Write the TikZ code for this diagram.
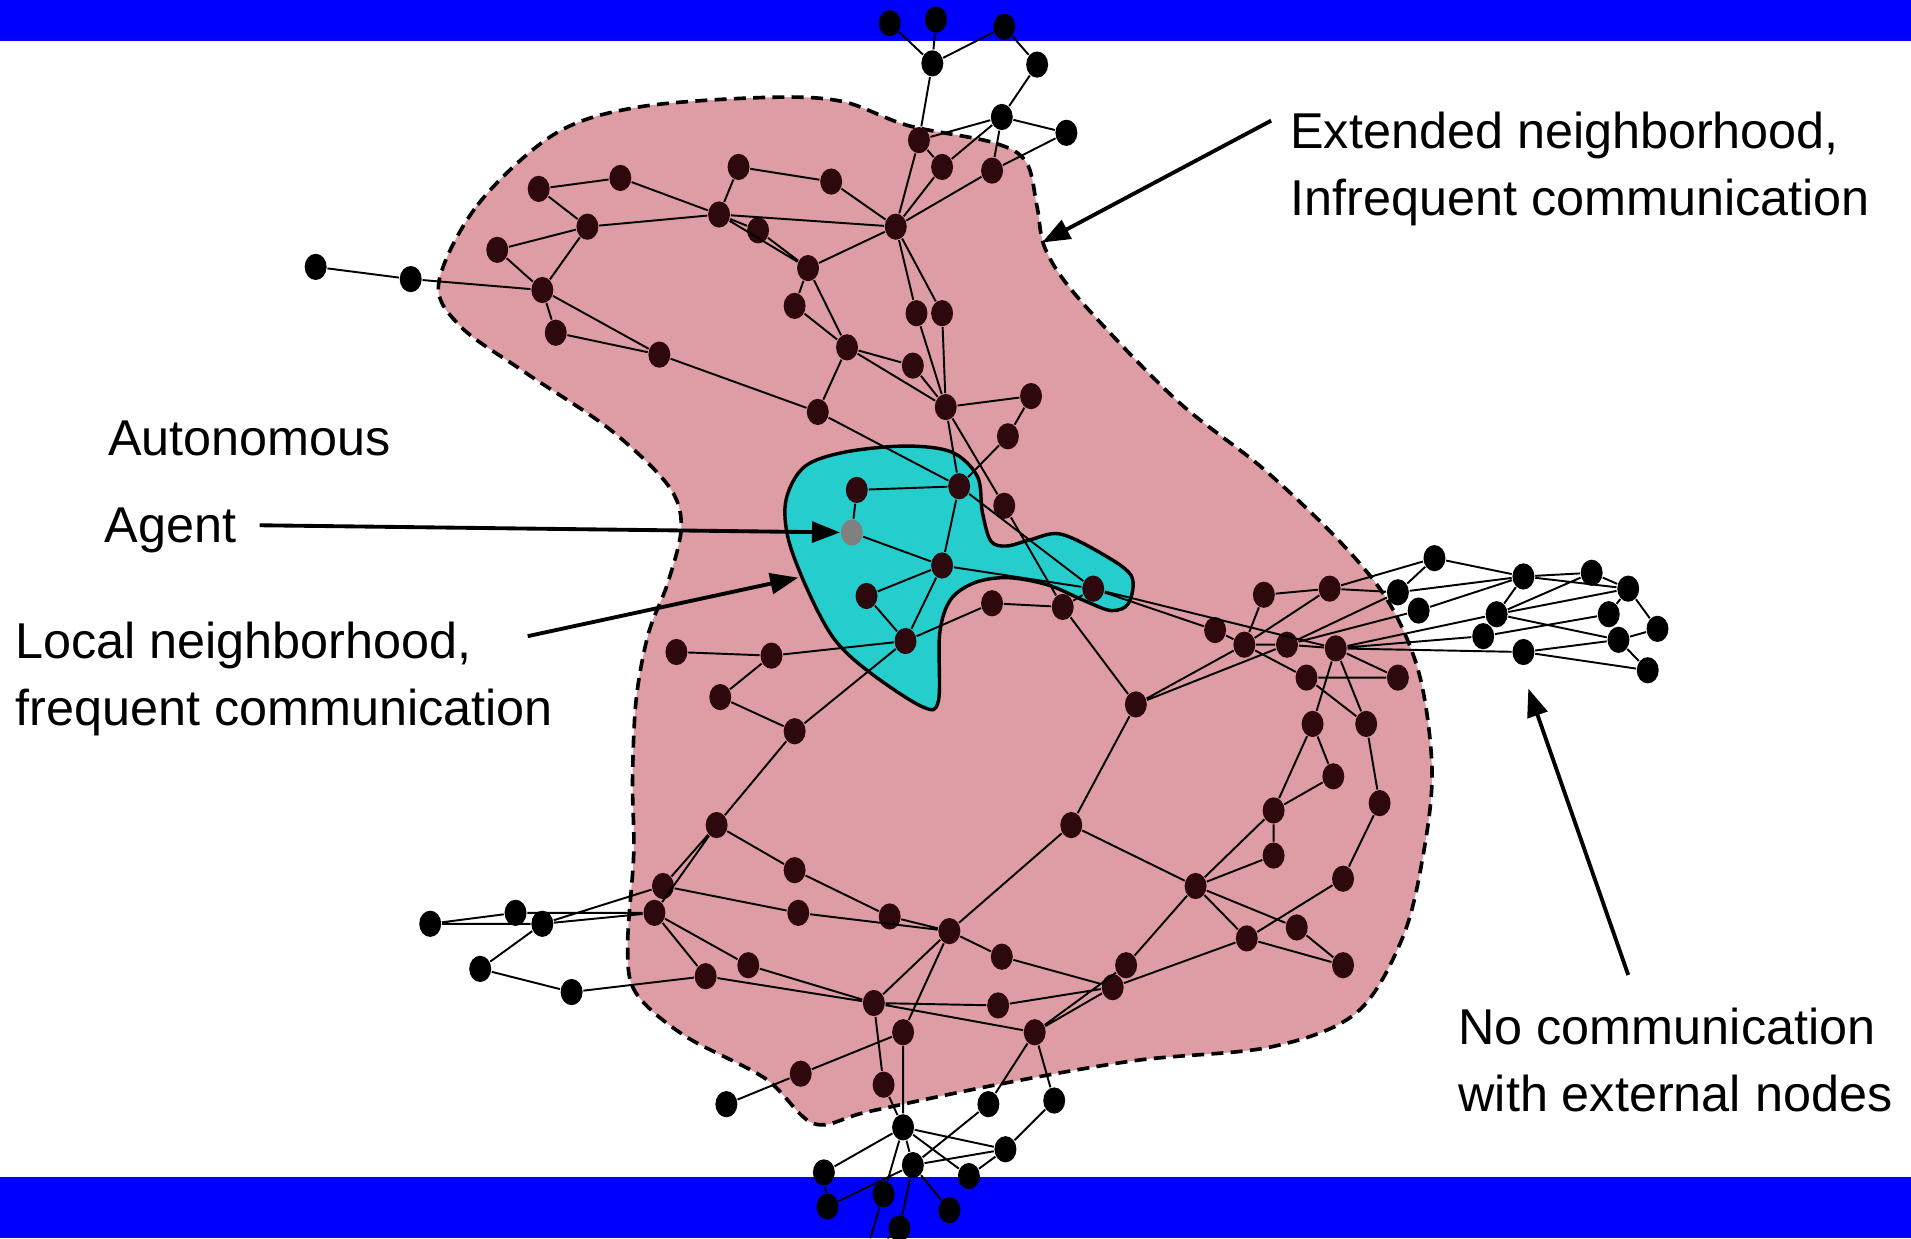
\documentclass[tikz,border=0pt]{standalone}
\usepackage{xcolor}
\usepackage{fontspec}
\setmainfont{Liberation Sans}
\usepackage{tikz}
\usetikzlibrary{shapes.geometric, arrows.meta}

\definecolor{barblue}{RGB}{0,0,255}
\definecolor{extpink}{RGB}{222,156,164}
\definecolor{loccyan}{RGB}{38,205,205}
\definecolor{nodedark}{RGB}{45,8,12}

\begin{document}
\begin{tikzpicture}
				[x= 0.01cm, y= -0.01cm,
				vin/.style = {ellipse, fill=nodedark, inner sep=0pt, minimum width=0.18cm, minimum height=0.215cm},
				vout/.style = {vin, fill=black},
				vagent/.style = {vin, fill=gray},
				lbl/.style = {anchor=base west, inner sep=0pt, font=\fontsize{11.75}{15.6}\selectfont},
				arr/.style = {line width=0.9pt, -{Triangle[length=0.23cm, width=0.17cm]}}]
				\useasboundingbox (0,0) rectangle (1568,1016);
				\fill[barblue] (0,0) rectangle (1568,34);
				\fill[barblue] (0,966) rectangle (1568,1016);
				% extended neighborhood
				\draw[fill=extpink, line width=0.85pt, dash pattern=on 2.8pt off 1.7pt] plot[smooth cycle, tension=0.55] coordinates {
					(360,232) (392,168) (455,110) (523,88) (627,80) (690,83) (745,103) (815,117) (842,133) (851,170)
					(858,205) (886,246) (965,328) (1037,385) (1100,445) (1140,495) (1165,555) (1175,632) (1168,700) (1151,769)
					(1113,831) (1043,859) (933,870) (823,889) (713,912) (668,922) (628,885) (562,850) (522,815) (515,777)
					(520,700) (519,640) (522,574) (532,520) (548,478) (559,432) (548,398) (500,352) (430,305) (378,268)};
				% local neighborhood
				\draw[fill=loccyan, line width=0.8pt] plot[smooth cycle, tension=0.55] coordinates {
					(645,410) (660,383) (693,371) (743,366) (781,371) (802,391) (806,420) (813,444) (826,448) (845,443)
					(869,438) (900,452) (928,472) (926,495) (912,501) (890,493) (860,480) (827,474) (800,478) (780,492)
					(771,520) (770,575) (757,580) (714,552) (685,525) (664,487) (647,443)};
				% outside nodes
				\node[vout] (t1) at (730,19) {};
				\node[vout] (t2) at (768,16) {};
				\node[vout] (t3) at (824,22) {};
				\node[vout] (t4) at (765,52) {};
				\node[vout] (t5) at (851,53) {};
				\node[vout] (t6) at (822,96) {};
				\node[vout] (t7) at (875,109) {};
				\node[vout] (e1) at (259,219) {};
				\node[vout] (e2) at (337,229) {};
				\node[vout] (e3) at (423,749) {};
				\node[vout] (e4) at (445,758) {};
				\node[vout] (e5) at (353,758) {};
				\node[vout] (e6) at (394,795) {};
				\node[vout] (e7) at (469,814) {};
				\node[vout] (x1) at (1177,458) {};
				\node[vout] (x2) at (1147,486) {};
				\node[vout] (x3) at (1164,501) {};
				\node[vout] (x4) at (1250,473) {};
				\node[vout] (x5) at (1306,470) {};
				\node[vout] (x6) at (1336,483) {};
				\node[vout] (x7) at (1228,504) {};
				\node[vout] (x8) at (1320,504) {};
				\node[vout] (x9) at (1360,516) {};
				\node[vout] (x10) at (1217,522) {};
				\node[vout] (x11) at (1328,525) {};
				\node[vout] (x12) at (1250,535) {};
				\node[vout] (x13) at (1352,550) {};
				\node[vout] (d1) at (596,906) {};
				\node[vout] (d2) at (811,906) {};
				\node[vout] (d3) at (865,903) {};
				\node[vout] (d4) at (741,925) {};
				\node[vout] (d5) at (825,943) {};
				\node[vout] (d6) at (749,956) {};
				\node[vout] (d7) at (676,962) {};
				\node[vout] (d8) at (795,965) {};
				\node[vout] (d9) at (725,980) {};
				\node[vout] (d10) at (679,990) {};
				\node[vout] (d11) at (779,993) {};
				\node[vout] (d12) at (738,1008) {};
				\coordinate (dend1) at (714,1016);
				\coordinate (dend2) at (728,1016);
				% inside nodes
				\node[vin] (a1) at (754,115) {};
				\node[vin] (a2) at (773,137) {};
				\node[vin] (a3) at (814,140) {};
				\node[vin] (a4) at (735,186) {};
				\node[vin] (a5) at (606,137) {};
				\node[vin] (a6) at (682,149) {};
				\node[vin] (a7) at (509,146) {};
				\node[vin] (a8) at (442,155) {};
				\node[vin] (a9) at (482,186) {};
				\node[vin] (a10) at (590,176) {};
				\node[vin] (a11) at (622,189) {};
				\node[vin] (a12) at (408,205) {};
				\node[vin] (a13) at (663,220) {};
				\node[vin] (a14) at (445,238) {};
				\node[vin] (a15) at (456,273) {};
				\node[vin] (a16) at (541,291) {};
				\node[vin] (a17) at (652,251) {};
				\node[vin] (a18) at (752,257) {};
				\node[vin] (a19) at (773,257) {};
				\node[vin] (a20) at (695,285) {};
				\node[vin] (a21) at (749,300) {};
				\node[vin] (a22) at (776,334) {};
				\node[vin] (a23) at (846,325) {};
				\node[vin] (a24) at (671,338) {};
				\node[vin] (a25) at (827,358) {};
				\node[vin] (a26) at (824,415) {};
				\node[vin] (a27) at (814,495) {};
				\node[vin] (a28) at (872,498) {};
				\node[vin] (a29) at (555,535) {};
				\node[vin] (a30) at (633,538) {};
				\node[vin] (a31) at (591,572) {};
				\node[vin] (a32) at (652,600) {};
				\node[vin] (a33) at (932,578) {};
				\node[vin] (c1) at (703,402) {};
				\node[vin] (c2) at (787,399) {};
				\node[vagent] (g) at (699,437) {};
				\node[vin] (c3) at (773,464) {};
				\node[vin] (c4) at (711,489) {};
				\node[vin] (c5) at (897,483) {};
				\node[vin] (c6) at (743,526) {};
				\node[vin] (r1) at (1037,488) {};
				\node[vin] (r2) at (1091,483) {};
				\node[vin] (r3) at (997,517) {};
				\node[vin] (r4) at (1021,529) {};
				\node[vin] (r5) at (1056,529) {};
				\node[vin] (r6) at (1096,532) {};
				\node[vin] (r7) at (1072,556) {};
				\node[vin] (r8) at (1147,556) {};
				\node[vin] (r9) at (1077,594) {};
				\node[vin] (r10) at (1121,594) {};
				\node[vin] (r11) at (1094,637) {};
				\node[vin] (r12) at (1132,659) {};
				\node[vin] (r13) at (1045,665) {};
				\node[vin] (r14) at (1045,702) {};
				\node[vin] (r15) at (1102,721) {};
				\node[vin] (r16) at (981,727) {};
				\node[vin] (r17) at (1064,761) {};
				\node[vin] (r18) at (1023,770) {};
				\node[vin] (r19) at (1102,792) {};
				\node[vin] (b1) at (588,677) {};
				\node[vin] (b2) at (879,677) {};
				\node[vin] (b3) at (652,714) {};
				\node[vin] (b4) at (544,727) {};
				\node[vin] (b5) at (537,749) {};
				\node[vin] (b6) at (655,749) {};
				\node[vin] (b7) at (730,752) {};
				\node[vin] (b8) at (779,764) {};
				\node[vin] (b9) at (579,801) {};
				\node[vin] (b10) at (614,792) {};
				\node[vin] (b11) at (822,785) {};
				\node[vin] (b12) at (924,792) {};
				\node[vin] (b13) at (913,810) {};
				\node[vin] (b14) at (717,823) {};
				\node[vin] (b15) at (819,825) {};
				\node[vin] (b16) at (849,847) {};
				\node[vin] (b17) at (741,847) {};
				\node[vin] (b18) at (657,881) {};
				\node[vin] (b19) at (725,890) {};
				% links
				\draw[line width=0.45pt] (t1)--(t4) (t2)--(t4) (t4)--(t3) (t3)--(t5) (t5)--(t6) (t6)--(t7) (t4)--(a1) (a1)--(t6)
					(t6)--(a2) (t6)--(a3) (t7)--(a3) (a1)--(a2);
				\draw[line width=0.45pt] (a4)--(a1) (a4)--(a2) (a4)--(a3) (a4)--(a6) (a4)--(a10) (a4)--(a13) (a4)--(a18) (a4)--(a19)
					(a5)--(a6) (a5)--(a10) (a7)--(a8) (a7)--(a10) (a8)--(a9) (a9)--(a10) (a9)--(a12) (a9)--(a14)
					(a10)--(a11) (a10)--(a13) (a11)--(a13) (a12)--(a14) (e1)--(e2) (e2)--(a14) (a14)--(a15) (a14)--(a16)
					(a15)--(a16) (a16)--(a24) (a13)--(a17) (a13)--(a20) (a17)--(a20) (a20)--(a21) (a20)--(a22) (a20)--(a24)
					(a18)--(a22) (a19)--(a22) (a21)--(a22) (a22)--(a23) (a23)--(a25) (a22)--(a26) (a26)--(a28);
				\draw[line width=0.45pt] (a24)--(c2) (a22)--(c2) (a25)--(c2) (c1)--(c2) (c1)--(g) (g)--(c3) (c2)--(c3) (c2)--(c5)
					(c3)--(c5) (c3)--(c4) (c3)--(c6) (c4)--(c6) (c6)--(a27) (a27)--(a28) (a28)--(c5) (a30)--(c6) (a32)--(c6)
					(a28)--(a33) (a29)--(a30) (a30)--(a31) (a31)--(a32) (a32)--(b1) (a33)--(b2) (a33)--(r4) (a33)--(r5)
					(c5)--(r3) (c5)--(r6);
				\draw[line width=0.45pt] (r1)--(r2) (r1)--(r4) (r2)--(r4) (r3)--(r4) (r4)--(r5) (r5)--(r6) (r4)--(r7) (r7)--(r8)
					(r6)--(r8) (r6)--(r9) (r6)--(r10) (r7)--(r10) (r9)--(r11) (r9)--(r13) (r10)--(r12) (r11)--(r13)
					(r13)--(r14) (r13)--(r16) (r14)--(r16) (r12)--(r15) (r15)--(r18) (r16)--(r17) (r16)--(r18) (r17)--(r19)
					(r18)--(r19) (r16)--(b2) (r16)--(b12) (r18)--(b13);
				\draw[line width=0.45pt] (r2)--(x1) (r2)--(x2) (x1)--(x2) (x1)--(x4) (x2)--(x4) (x3)--(x4) (x4)--(x5) (x4)--(x6)
					(x4)--(x7) (x5)--(x6) (x5)--(x7) (x6)--(x7) (x6)--(x8) (x6)--(x9) (x7)--(x11) (x8)--(x10) (x9)--(x11)
					(x11)--(x12) (x11)--(x13) (x12)--(x13) (r5)--(x2) (r5)--(x3) (r6)--(x7) (r6)--(x10) (r6)--(x12);
				\draw[line width=0.45pt] (b1)--(b4) (b1)--(b5) (b1)--(b3) (b3)--(b7) (b4)--(b6) (b4)--(e4) (b5)--(e3) (b5)--(e4)
					(e5)--(e3) (e5)--(e4) (e4)--(e6) (e6)--(e7) (e7)--(b9) (b5)--(b9) (b5)--(b10) (b6)--(b8) (b7)--(b8)
					(b8)--(b2) (b8)--(b11) (b8)--(b14) (b8)--(b17) (b11)--(b13) (b10)--(b14) (b9)--(b14) (b14)--(b15)
					(b14)--(b16) (b14)--(b19) (b15)--(b13) (b16)--(b12) (b16)--(b13) (b17)--(b18);
				\draw[line width=0.45pt] (b17)--(d4) (b16)--(d2) (b16)--(d3) (b18)--(d1) (b19)--(d4) (d3)--(d5) (d4)--(d5) (d4)--(d7)
					(d4)--(d8) (d4)--(d9) (d4)--(d6) (d2)--(d6) (d6)--(d5) (d5)--(d8) (d7)--(d10) (d6)--(d10) (d6)--(d11)
					(d6)--(d12) (d9)--(dend1) (d12)--(dend2);
				% labels
				\node[lbl] (ext1) at (1058,122) {Extended neighborhood,};
				\node[lbl] (ext2) at (1058,177) {Infrequent communication};
				\node[lbl] (aut1) at (88,374) {Autonomous};
				\node[lbl] (aut2) at (85,445) {Agent};
				\node[lbl] (loc1) at (12,540) {Local neighborhood,};
				\node[lbl] (loc2) at (12,595) {frequent communication};
				\node[lbl] (noc1) at (1196,857) {No communication};
				\node[lbl] (noc2) at (1196,912) {with external nodes};
				\coordinate (extfrom) at (1043,99);
				\coordinate (extto) at (855,199);
				\coordinate (agentfrom) at (213,431);
				\coordinate (locfrom) at (433,522);
				\coordinate (locto) at (655,474);
				\coordinate (nocfrom) at (1336,800);
				\coordinate (nocto) at (1254,565);
				\draw[arr] (extfrom) -- (extto);
				\draw[arr] (agentfrom) -- (g);
				\draw[arr] (locfrom) -- (locto);
				\draw[arr] (nocfrom) -- (nocto);
			\end{tikzpicture}
\end{document}
